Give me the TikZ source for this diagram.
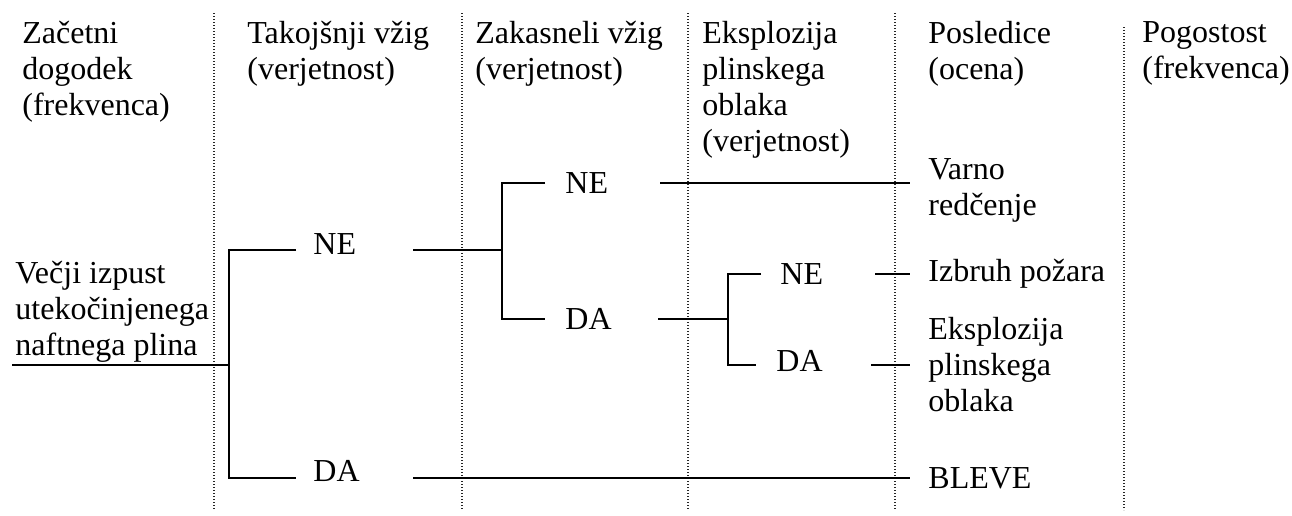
\documentclass[tikz,border=0pt]{standalone}
\usepackage{fontspec}
\setmainfont{Liberation Serif}

\begin{document}
\begin{tikzpicture}[x=0.5pt, y=-0.5pt,
    every node/.style={font=\fontsize{16}{18}\selectfont, inner sep=0pt},
    header/.style={anchor=north west, align=left},
    branch/.style={anchor=base west},
    outcome/.style={anchor=west, align=left, inner xsep=9pt},
    treeline/.style={line width=1pt, line join=miter},
    colsep/.style={line width=0.6pt, dash pattern=on 0.6pt off 0.9pt, black!85}]
    \useasboundingbox (0,0) rectangle (1292,515);

    % Column separators
    \foreach \x/\t in {214/13, 462/13, 688/13, 895/13, 1124/27}
        \draw [colsep] (\x,\t) -- (\x,510);

    % Column headers
    \node [header] (h1) at (22,21)   {Začetni\\dogodek\\(frekvenca)};
    \node [header] (h2) at (247,21)  {Takojšnji vžig\\(verjetnost)};
    \node [header] (h3) at (475,21)  {Zakasneli vžig\\(verjetnost)};
    \node [header] (h4) at (702,21)  {Eksplozija\\plinskega\\oblaka\\(verjetnost)};
    \node [header] (h5) at (928,21)  {Posledice\\(ocena)};
    \node [header] (h6) at (1142,21) {Pogostost\\(frekvenca)};

    % Initial event
    \node [header] (ie) at (15,261) {Večji izpust\\utekočinjenega\\naftnega plina};

    % Branch labels
    \node [branch] (ne1) at (313,254) {NE};
    \node [branch] (da1) at (313,481) {DA};
    \node [branch] (ne2) at (565,193) {NE};
    \node [branch] (da2) at (565,329) {DA};
    \node [branch] (ne3) at (780,284) {NE};
    \node [branch] (da3) at (776,371) {DA};

    % Outcomes
    \node [outcome] (safe)  at (910,190) {Varno\\redčenje};
    \node [outcome] (fire)  at (910,274) {Izbruh požara};
    \node [outcome] (vce)   at (910,365) {Eksplozija\\plinskega\\oblaka};
    \node [outcome] (bleve) at (910,478) {BLEVE};

    % Branch points and line ends
    \coordinate (start) at (12,365);
    \coordinate (b1)    at (229,365);
    \coordinate (b1ne)  at (296,250);
    \coordinate (b1da)  at (296,478);
    \coordinate (ne1o)  at (413,250);
    \coordinate (da1o)  at (413,478);
    \coordinate (b2)    at (502,250);
    \coordinate (b2ne)  at (545,183);
    \coordinate (b2da)  at (545,319);
    \coordinate (ne2o)  at (660,183);
    \coordinate (da2o)  at (658,319);
    \coordinate (b3)    at (728,319);
    \coordinate (b3ne)  at (761,274);
    \coordinate (b3da)  at (756,365);
    \coordinate (ne3o)  at (875,274);
    \coordinate (da3o)  at (871,365);

    % Paths
    \draw [treeline] (start) -- (b1);
    \draw [treeline] (b1ne) -| (b1) |- (b1da);
    \draw [treeline] (ne1o) -- (b2);
    \draw [treeline] (b2ne) -| (b2) |- (b2da);
    \draw [treeline] (ne2o) -- (ne2o -| safe.west);
    \draw [treeline] (da2o) -- (b3);
    \draw [treeline] (b3ne) -| (b3) |- (b3da);
    \draw [treeline] (ne3o) -- (fire.west);
    \draw [treeline] (da3o) -- (vce.west);
    \draw [treeline] (da1o) -- (bleve.west);

\end{tikzpicture}
\end{document}
